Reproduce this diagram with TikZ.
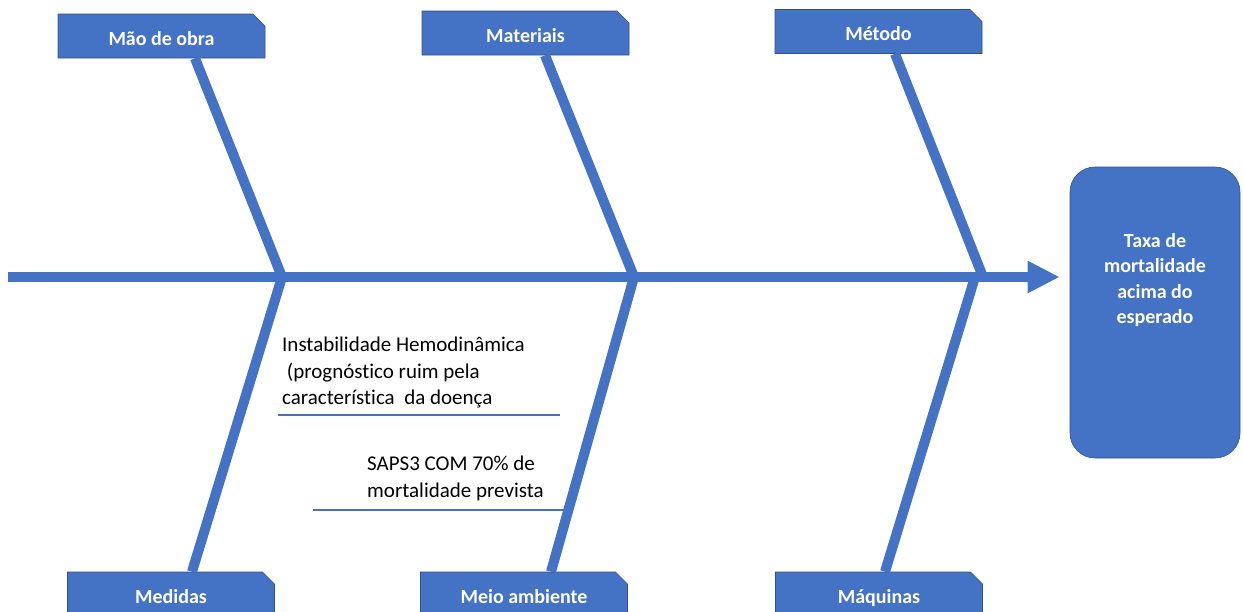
\documentclass[tikz,border=0pt]{standalone}
\usepackage{fontspec}
\setmainfont[Ligatures=NoCommon]{Carlito}
\usetikzlibrary{arrows.meta,shapes.misc}
\definecolor{azul}{HTML}{4472C4}
\definecolor{azulborda}{HTML}{2F528F}

\begin{document}
\begin{tikzpicture}[x=1pt,y=-1pt,
	caixa/.style={chamfered rectangle,chamfered rectangle corners=north east,
		chamfered rectangle xsep=6pt,chamfered rectangle ysep=6pt,
		fill=azul,draw=azulborda,line width=0.6pt,text=white,inner sep=0pt,
		minimum width=207pt,minimum height=44pt,text height=18pt,text depth=0pt,
		font=\fontsize{20}{24}\selectfont\bfseries},
	efeito/.style={rectangle,rounded corners=25pt,fill=azul,draw=azulborda,
		line width=0.6pt,minimum width=170pt,minimum height=291pt,inner sep=0pt},
	efeitotexto/.style={text=white,align=center,inner sep=0pt,
		font=\fontsize{20}{25.3}\selectfont\bfseries},
	causa/.style={align=left,inner sep=0pt,anchor=north west,
		font=\fontsize{21}{26.5}\selectfont},
	osso/.style={azul,line width=10pt},
	espinha/.style={azul,line width=10pt,-{Triangle[length=32pt,width=30pt]}},
	traco/.style={azul,line width=2pt}]
	\useasboundingbox (0,0) rectangle (1243,611);
	\clip (0,0) rectangle (1243,611);

	\node[caixa] (mao) at (161.5,36) {Mão de obra};
	\node[caixa] (mat) at (525.5,33) {Materiais};
	\node[caixa] (met) at (878.5,31.5) {Método};
	\node[caixa] (med) at (171,594) {Medidas};
	\node[caixa] (meio) at (524,594) {Meio ambiente};
	\node[caixa] (maq) at (879,594) {Máquinas};

	\node[efeito] (ef) at (1155,312.5) {};
	\node[efeitotexto] (eftxt) at (1155,280) {Taxa de\\mortalidade\\acima do\\esperado};

	\coordinate (origem) at (8,277);
	\coordinate (j1) at (282,277);
	\coordinate (j2) at (634,277);
	\coordinate (j3) at (983,277);
	\coordinate (j3b) at (975,277);

	\draw[espinha] (origem) -- ([xshift=-10pt]origem -| ef.west);

	\draw[osso] ([xshift=33.5pt]mao.south) -- (j1);
	\draw[osso] ([xshift=19.5pt]mat.south) -- (j2);
	\draw[osso] ([xshift=16.5pt]met.south) -- (j3);
	\draw[osso] ([xshift=21pt]med.north) -- (j1);
	\draw[osso] ([xshift=27pt]meio.north) -- (j2);
	\draw[osso] ([xshift=6pt]maq.north) -- (j3b);

	\node[causa] (instab) at (282,337) {Instabilidade Hemodinâmica\\\ (prognóstico ruim pela\\característica\ \ da doença};
	\coordinate (s1a) at (278,415);
	\coordinate (s1b) at (560,415);
	\draw[traco] (s1a) -- (s1b);

	\node[causa] (saps) at (367,456) {SAPS3 COM 70\% de\\mortalidade prevista};
	\coordinate (s2a) at (313,510);
	\coordinate (s2b) at (565,510);
	\draw[traco] (s2a) -- (s2b);
\end{tikzpicture}
\end{document}
